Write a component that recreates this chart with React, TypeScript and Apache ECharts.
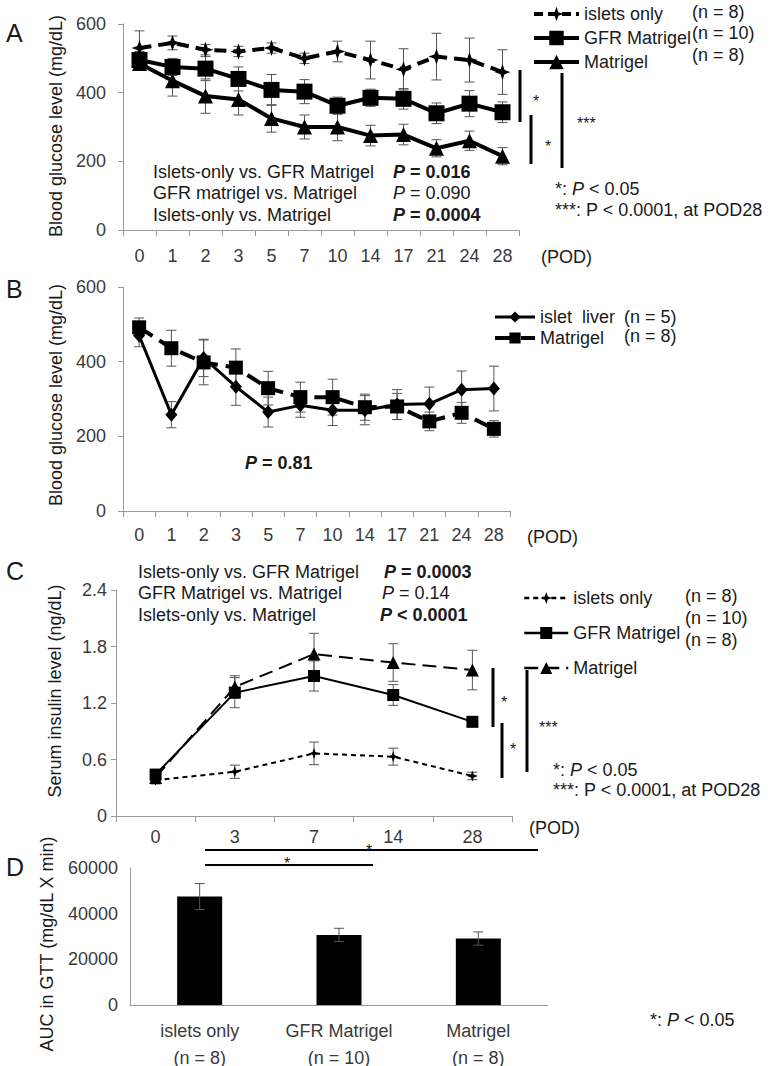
import React, { useEffect, useRef } from "react";
import * as echarts from "echarts";

const FONT = '"Liberation Sans", Arial, Helvetica, sans-serif';
const INK = "#1a1a1a";
const TICK = "#3a3a3a";
const AXIS = "#9a9a9a";

// Panel A — blood glucose (mg/dL) by POD
const aCats = ["0", "1", "2", "3", "5", "7", "10", "14", "17", "21", "24", "28"];
const aIslets = [530, 545, 525, 520, 530, 500, 520, 495, 468, 505, 495, 460];
const aIsletsErr = [50, 20, 15, 15, 15, 15, 30, 55, 60, 68, 64, 65];
const aGfr = [495, 475, 470, 440, 408, 403, 362, 385, 382, 340, 368, 343];
const aGfrErr = [25, 25, 35, 35, 45, 35, 25, 25, 30, 30, 38, 30];
const aMat = [485, 435, 390, 380, 325, 300, 300, 275, 278, 238, 260, 215];
const aMatErr = [20, 45, 50, 45, 40, 35, 40, 30, 30, 25, 28, 25];

// Panel B — blood glucose, islet liver vs Matrigel
const bCats = aCats;
const bLiver = [470, 258, 410, 333, 265, 283, 270, 270, 285, 287, 325, 328];
const bLiverErr = [30, 35, 50, 50, 40, 32, 41, 39, 40, 45, 50, 60];
const bMat = [492, 436, 398, 384, 329, 305, 305, 278, 280, 240, 263, 220];
const bMatErr = [25, 48, 60, 50, 45, 40, 48, 35, 35, 25, 28, 22];

// Panel C — serum insulin (ng/dL)
const cCats = ["0", "3", "7", "14", "28"];
const cIslets = [0.38, 0.47, 0.665, 0.63, 0.425];
const cIsletsErr = [0.04, 0.07, 0.12, 0.09, 0.04];
const cGfr = [0.44, 1.31, 1.487, 1.285, 1.0];
const cGfrErr = [0.05, 0.16, 0.16, 0.11, 0.05];
const cMat = [0.41, 1.37, 1.72, 1.63, 1.55];
const cMatErr = [0.04, 0.12, 0.22, 0.2, 0.21];

// Panel D — AUC in GTT
const dCats = ["islets only", "GFR Matrigel", "Matrigel"];
const dN = ["(n = 8)", "(n = 10)", "(n = 8)"];
const dVals = [47500, 30700, 29100];
const dErr = [5700, 2900, 2900];

const STAR = "path://M0,-10L2.6,-2.6L10,0L2.6,2.6L0,10L-2.6,2.6L-10,0L-2.6,-2.6Z";

function errSeries(idx: number, vals: number[], errs: number[], half: number) {
  return {
    type: "custom",
    xAxisIndex: idx,
    yAxisIndex: idx,
    silent: true,
    z: 1,
    encode: { x: 0, y: [1, 2] },
    data: vals.map((v, i) => [i, v - errs[i], v + errs[i]]),
    renderItem: (params: any, api: any) => {
      const lo = api.coord([api.value(0), api.value(1)]);
      const hi = api.coord([api.value(0), api.value(2)]);
      const st = { stroke: "#555", lineWidth: 1 };
      return {
        type: "group",
        children: [
          { type: "line", shape: { x1: lo[0], y1: lo[1], x2: hi[0], y2: hi[1] }, style: st },
          { type: "line", shape: { x1: hi[0] - half, y1: hi[1], x2: hi[0] + half, y2: hi[1] }, style: st },
          { type: "line", shape: { x1: lo[0] - half, y1: lo[1], x2: lo[0] + half, y2: lo[1] }, style: st },
        ],
      };
    },
  };
}

function lineSeries(name: string, idx: number, data: number[], symbol: string, size: any, width: number, type: any) {
  return {
    type: "line",
    name,
    xAxisIndex: idx,
    yAxisIndex: idx,
    data,
    symbol,
    symbolSize: size,
    z: 3,
    itemStyle: { color: "#000" },
    lineStyle: { color: "#000", width, type },
  };
}

function catX(idx: number, data: string[], margin: number, extra: any = {}) {
  return {
    gridIndex: idx,
    type: "category",
    data,
    boundaryGap: true,
    axisLine: { lineStyle: { color: AXIS, width: 1 } },
    axisTick: { show: true, length: 6, lineStyle: { color: AXIS } },
    axisLabel: { fontSize: 18, color: TICK, margin, fontFamily: FONT, interval: 0 },
    ...extra,
  };
}

function valY(idx: number, max: number, interval: number, margin: number, fmt?: any, ticks = true) {
  return {
    gridIndex: idx,
    type: "value",
    min: 0,
    max,
    interval,
    axisLine: { show: true, lineStyle: { color: AXIS, width: 1 } },
    axisTick: { show: ticks, length: 5, lineStyle: { color: AXIS } },
    splitLine: { show: false },
    axisLabel: { fontSize: 18, color: TICK, margin, fontFamily: FONT, formatter: fmt },
  };
}

function t(x: number, y: number, text: string, extra: any = {}) {
  return {
    type: "text",
    x,
    y,
    silent: true,
    style: {
      text,
      fill: INK,
      fontSize: 18,
      fontFamily: FONT,
      textAlign: "left",
      textVerticalAlign: "middle",
      ...extra,
    },
  };
}

const richBase = { fontSize: 18, fontFamily: FONT, fill: INK };
const RICH = {
  bi: { ...richBase, fontWeight: "bold", fontStyle: "italic" },
  b: { ...richBase, fontWeight: "bold" },
  i: { ...richBase, fontStyle: "italic" },
  n: { ...richBase },
};

function rt(x: number, y: number, text: string, size = 18) {
  const r: any = {};
  Object.keys(RICH).forEach((k) => (r[k] = { ...(RICH as any)[k], fontSize: size }));
  return t(x, y, text, { rich: r, fontSize: size });
}

function vline(x: number, y1: number, y2: number, w = 3) {
  return { type: "line", silent: true, shape: { x1: x, y1, x2: x, y2 }, style: { stroke: "#000", lineWidth: w } };
}
function hline(y: number, x1: number, x2: number, w = 2) {
  return { type: "line", silent: true, shape: { x1, y1: y, x2, y2: y }, style: { stroke: "#000", lineWidth: w } };
}
function vtitle(x: number, y: number, text: string) {
  return {
    type: "text",
    x,
    y,
    rotation: Math.PI / 2,
    silent: true,
    style: { text, fill: INK, fontSize: 18, fontFamily: FONT, textAlign: "center", textVerticalAlign: "middle" },
  };
}

const legendText = { fontSize: 18, color: INK, fontFamily: FONT };
const fmtName = (n: string) => n.split("|")[1];

const option: any = {
  animation: false,
  backgroundColor: "#fff",
  grid: [
    { left: 123, top: 24, width: 396, height: 206, outerBoundsMode: "none" },
    { left: 123, top: 287, width: 387, height: 224, outerBoundsMode: "none" },
    { left: 116, top: 590, width: 396, height: 226, outerBoundsMode: "none" },
    { left: 130, top: 868, width: 418, height: 137, outerBoundsMode: "none" },
  ],
  xAxis: [
    catX(0, aCats, 17),
    catX(1, bCats, 15),
    catX(2, cCats, 12),
    {
      ...catX(3, dCats.map((c, i) => c + "\n" + dN[i]), 12),
      axisTick: { show: false },
      axisLabel: { fontSize: 18, color: TICK, margin: 12, fontFamily: FONT, interval: 0, lineHeight: 27 },
    },
  ],
  yAxis: [
    valY(0, 600, 200, 17),
    valY(1, 600, 200, 17),
    valY(2, 2.4, 0.6, 9, (v: number) => (v === 0 ? "0" : v.toFixed(1))),
    valY(3, 60000, 20000, 12, (v: number) => String(v), false),
  ],
  legend: [
    {
      orient: "vertical",
      left: 527,
      top: 0,
      itemWidth: 45,
      itemHeight: 18,
      itemGap: 6,
      selectedMode: false,
      data: [
        { name: "A|islets only", lineStyle: { width: 4, type: [9, 5] } },
        { name: "A|GFR Matrigel", lineStyle: { width: 4 } },
        { name: "A|Matrigel", lineStyle: { width: 4 } },
      ],
      formatter: fmtName,
      textStyle: legendText,
    },
    {
      orient: "vertical",
      left: 488,
      top: 303,
      itemWidth: 40,
      itemHeight: 14,
      itemGap: 3,
      selectedMode: false,
      data: [
        { name: "B|islet  liver", lineStyle: { width: 3 } },
        { name: "B|Matrigel", lineStyle: { width: 4, type: [18, 8] } },
      ],
      formatter: fmtName,
      textStyle: legendText,
    },
    {
      orient: "vertical",
      left: 518,
      top: 584,
      itemWidth: 44,
      itemHeight: 15,
      itemGap: 17,
      selectedMode: false,
      data: [
        { name: "C|islets only", lineStyle: { width: 2.5, type: [5, 4] } },
        { name: "C|GFR Matrigel", lineStyle: { width: 2.5 } },
        { name: "C|Matrigel", lineStyle: { width: 2.5, type: [14, 7] } },
      ],
      formatter: fmtName,
      textStyle: legendText,
    },
  ],
  series: [
    errSeries(0, aIslets, aIsletsErr, 5),
    errSeries(0, aGfr, aGfrErr, 5),
    errSeries(0, aMat, aMatErr, 5),
    lineSeries("A|islets only", 0, aIslets, STAR, 16, 4, [12, 7]),
    lineSeries("A|GFR Matrigel", 0, aGfr, "rect", 16, 4, "solid"),
    lineSeries("A|Matrigel", 0, aMat, "triangle", 15, 4, "solid"),

    errSeries(1, bLiver, bLiverErr, 5),
    errSeries(1, bMat, bMatErr, 5),
    lineSeries("B|islet  liver", 1, bLiver, "diamond", [12, 14], 3, "solid"),
    lineSeries("B|Matrigel", 1, bMat, "rect", 14, 4, [16, 8]),

    errSeries(2, cIslets, cIsletsErr, 5),
    errSeries(2, cGfr, cGfrErr, 5),
    errSeries(2, cMat, cMatErr, 5),
    lineSeries("C|islets only", 2, cIslets, STAR, 11, 2, [5, 4]),
    lineSeries("C|GFR Matrigel", 2, cGfr, "rect", 12, 2, "solid"),
    lineSeries("C|Matrigel", 2, cMat, "triangle", 13, 2, [14, 7]),

    {
      type: "bar",
      xAxisIndex: 3,
      yAxisIndex: 3,
      data: dVals,
      barWidth: 45,
      itemStyle: { color: "#000" },
      z: 1,
    },
    { ...errSeries(3, dVals, dErr, 5), z: 3 },
  ],
  graphic: [
    // panel letters
    t(6, 33, "A", { fontSize: 25 }),
    t(6, 289, "B", { fontSize: 25 }),
    t(6, 571, "C", { fontSize: 25 }),
    t(6, 867, "D", { fontSize: 25 }),
    // y-axis titles
    vtitle(56, 126, "Blood glucose level (mg/dL)"),
    vtitle(56, 395, "Blood glucose level (mg/dL)"),
    vtitle(55, 691, "Serum insulin level (ng/dL)"),
    vtitle(47, 944, "AUC in GTT (mg/dL X min)"),
    // (POD)
    t(541, 257, "(POD)"),
    t(527, 537, "(POD)"),
    t(529, 828, "(POD)"),
    // Panel A stats
    t(153, 172, "Islets-only vs. GFR Matrigel"),
    t(153, 193, "GFR matrigel vs. Matrigel"),
    t(153, 215, "Islets-only vs. Matrigel"),
    rt(393, 172, "{bi|P}{b| = 0.016}"),
    rt(393, 193, "{i|P}{n| = 0.090}"),
    rt(393, 215, "{bi|P}{b| = 0.0004}"),
    // Panel A n
    t(692, 12, "(n = 8)"),
    t(692, 33, "(n = 10)"),
    t(692, 55, "(n = 8)"),
    // Panel A significance
    vline(520, 70, 122),
    t(533, 101, "*", { fontSize: 16 }),
    vline(531, 115, 164),
    t(545, 146, "*", { fontSize: 16 }),
    vline(562, 73, 168),
    t(577, 123, "***", { fontSize: 16 }),
    rt(555, 189, "{n|*: }{i|P}{n| < 0.05}"),
    t(555, 210, "***: P < 0.0001, at POD28"),
    // Panel B
    rt(245, 463, "{bi|P}{b| = 0.81}"),
    t(624, 317, "(n = 5)"),
    t(624, 336, "(n = 8)"),
    // Panel C stats
    t(138, 572, "Islets-only vs. GFR Matrigel"),
    t(138, 593, "GFR Matrigel vs. Matrigel"),
    t(138, 615, "Islets-only vs. Matrigel"),
    rt(384, 572, "{bi|P}{b| = 0.0003}"),
    rt(382, 593, "{i|P}{n| = 0.14}"),
    rt(380, 615, "{bi|P}{b| < 0.0001}"),
    t(685, 596, "(n = 8)"),
    t(685, 618, "(n = 10)"),
    t(685, 640, "(n = 8)"),
    // Panel C significance
    vline(493, 668, 727),
    t(501, 702, "*", { fontSize: 16 }),
    vline(502, 723, 778),
    t(510, 749, "*", { fontSize: 16 }),
    vline(527, 670, 772),
    t(539, 727, "***", { fontSize: 16 }),
    rt(553, 770, "{n|*: }{i|P}{n| < 0.05}"),
    t(553, 790, "***: P < 0.0001, at POD28"),
    // Panel D significance
    hline(850, 205, 538),
    t(369, 850, "*", { fontSize: 16, textAlign: "center" }),
    hline(865, 205, 373),
    t(287, 863, "*", { fontSize: 16, textAlign: "center" }),
    rt(650, 1020, "{n|*: }{i|P}{n| < 0.05}"),
  ],
};

export default function App() {
  const ref = useRef<HTMLDivElement>(null);
  useEffect(() => {
    document.body.style.margin = "0";
    const chart = echarts.init(ref.current as HTMLDivElement, null, { renderer: "svg" });
    chart.setOption(option);
    return () => chart.dispose();
  }, []);
  return <div ref={ref} style={{ width: 771, height: 1066, background: "#fff" }} />;
}
